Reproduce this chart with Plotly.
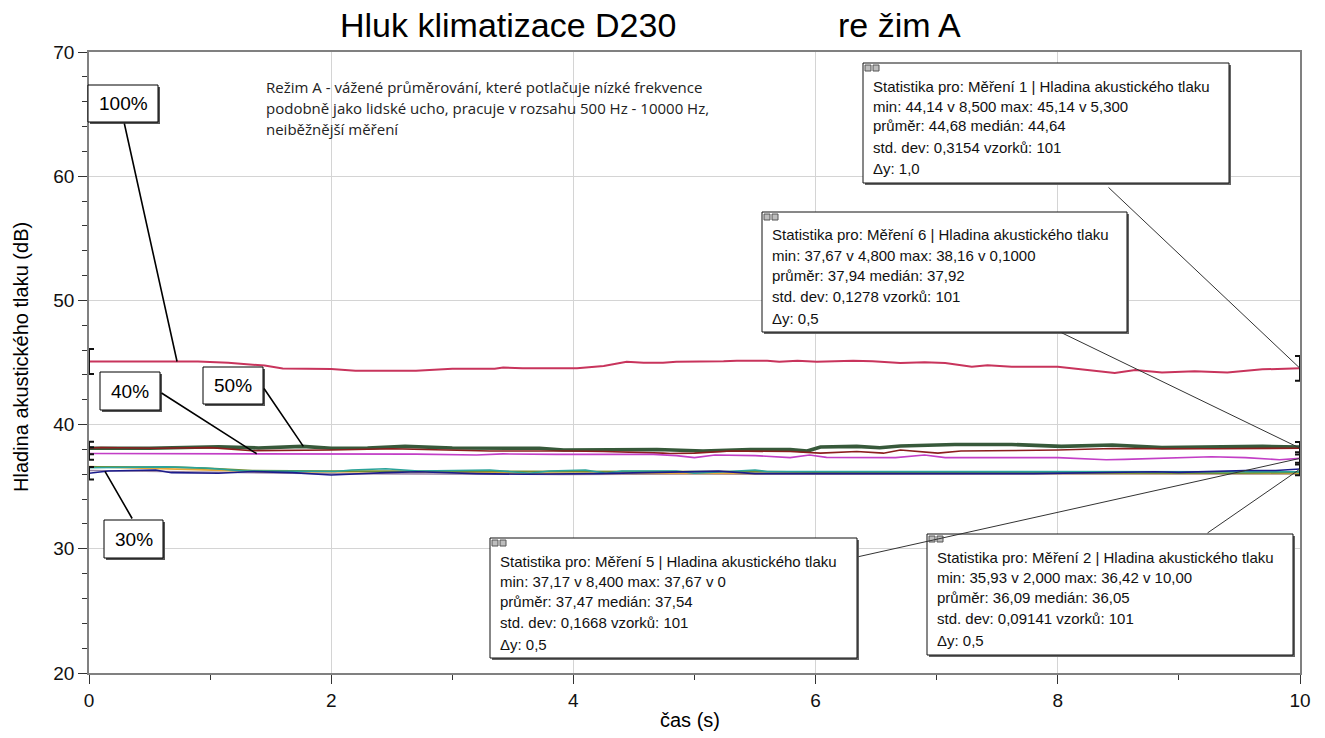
import numpy as np
import plotly.graph_objects as go

# ---------------- data ----------------
t_m1 = [0, 0.5, 0.9, 1.15, 1.45, 1.6, 2.0, 2.2, 2.7, 3.0, 3.35, 3.42, 3.58, 4.03, 4.25, 4.44, 4.58, 4.74,
        4.85, 5.24, 5.35, 5.6, 5.7, 5.85, 6.01, 6.31, 6.47, 6.7, 6.9, 7.07, 7.29, 7.42, 7.62, 8.0, 8.25,
        8.47, 8.64, 8.86, 9.13, 9.4, 9.69, 10.0]
m1 = [45.08, 45.08, 45.08, 44.97, 44.75, 44.52, 44.48, 44.34, 44.34, 44.5, 44.5, 44.6, 44.53, 44.53, 44.72,
      45.06, 44.97, 44.97, 45.06, 45.1, 45.14, 45.14, 45.06, 45.14, 45.06, 45.14, 45.1, 44.95, 45.02, 44.95,
      44.66, 44.77, 44.66, 44.66, 44.4, 44.15, 44.4, 44.2, 44.3, 44.2, 44.45, 44.53]

t_m7 = [0, 0.5, 1.07, 1.4, 1.76, 2.0, 2.3, 2.61, 3.0, 3.35, 3.72, 3.92, 4.27, 4.69, 5.07, 5.46, 5.79, 5.93,
        6.04, 6.34, 6.53, 6.7, 7.15, 7.62, 8.03, 8.45, 8.86, 9.27, 9.69, 10.0]
m7 = [38.09, 38.1, 38.22, 38.12, 38.25, 38.09, 38.12, 38.25, 38.12, 38.09, 38.09, 37.95, 38.0, 38.0, 37.87,
      38.0, 38.0, 37.87, 38.2, 38.25, 38.14, 38.28, 38.4, 38.4, 38.25, 38.36, 38.15, 38.22, 38.25, 38.2]

t_m6 = [0, 0.1, 0.55, 1.0, 1.35, 2.0, 2.5, 3.0, 3.31, 3.95, 4.25, 4.74, 4.8, 5.0, 5.3, 5.79, 6.04, 6.34,
        6.56, 6.7, 7.01, 7.2, 8.0, 8.45, 8.8, 9.3, 10.0]
m6 = [38.12, 38.16, 38.09, 38.15, 37.9, 37.95, 38.05, 37.95, 37.87, 37.87, 37.83, 37.7, 37.67, 37.7, 37.87,
      37.83, 37.7, 37.83, 37.7, 37.95, 37.7, 37.87, 37.95, 38.08, 38.05, 38.05, 38.1]

t_m5 = [0, 0.5, 1.0, 1.5, 2.0, 2.35, 2.7, 3.2, 3.42, 3.86, 4.66, 4.85, 5.0, 5.17, 5.5, 5.79, 5.95, 6.09,
        6.34, 6.66, 6.9, 7.07, 8.0, 8.4, 8.55, 8.86, 9.27, 9.55, 9.83, 10.0]
m5 = [37.67, 37.66, 37.65, 37.65, 37.64, 37.6, 37.62, 37.55, 37.64, 37.6, 37.6, 37.5, 37.34, 37.55, 37.5,
      37.34, 37.55, 37.36, 37.34, 37.34, 37.55, 37.34, 37.34, 37.17, 37.2, 37.28, 37.41, 37.34, 37.17, 37.28]

t_m2 = [0, 0.16, 0.55, 0.68, 1.07, 1.35, 1.68, 2.0, 2.45, 2.72, 3.2, 3.6, 4.2, 4.85, 5.2, 5.5, 6.2, 7.0,
        7.8, 8.8, 9.0, 9.55, 9.8, 10.0]
m2 = [36.08, 36.27, 36.35, 36.13, 36.08, 36.22, 36.13, 35.94, 36.13, 36.2, 36.05, 36.0, 36.05, 36.2, 36.25,
      36.05, 36.05, 36.0, 36.05, 36.2, 36.15, 36.3, 36.3, 36.42]

t_m3 = [0, 0.63, 0.96, 1.28, 2.03, 2.17, 2.45, 2.72, 3.31, 3.64, 3.8, 4.1, 4.27, 4.4, 4.85, 5.0, 5.28, 5.5,
        5.6, 6.7, 8.0, 9.0, 10.0]
m3 = [36.53, 36.6, 36.5, 36.27, 36.22, 36.35, 36.45, 36.27, 36.35, 36.08, 36.27, 36.35, 36.08, 36.27, 36.27,
      36.08, 36.22, 36.35, 36.22, 36.22, 36.18, 36.2, 36.2]

t_m4 = [0, 0.71, 1.04, 1.35, 2.0, 3.35, 4.5, 5.5, 6.66, 7.5, 8.5, 9.5, 10.0]
m4 = [36.6, 36.58, 36.45, 36.3, 36.25, 36.22, 36.2, 36.22, 36.12, 36.1, 36.12, 36.1, 36.15]

t_m8 = [0, 0.5, 1.0, 1.5, 2.5, 3.5, 5.0, 6.5, 8.0, 10.0]
m8 = [36.62, 36.5, 36.35, 36.2, 36.22, 36.1, 36.08, 36.08, 36.08, 36.08]

t_m9 = [0, 1.0, 2.0, 3.6, 3.9, 5.0, 5.6, 6.0, 7.5, 9.0, 10.0]
m9 = [36.3, 36.2, 36.05, 36.0, 35.98, 36.02, 35.98, 36.0, 36.02, 36.0, 36.02]

# stats boxes text
stat_m1 = ["Statistika pro: Měření 1 | Hladina akustického tlaku", "min: 44,14 v 8,500 max: 45,14 v 5,300",
           "průměr: 44,68 medián: 44,64", "std. dev: 0,3154 vzorků: 101", "Δy: 1,0"]
stat_m6 = ["Statistika pro: Měření 6 | Hladina akustického tlaku", "min: 37,67 v 4,800 max: 38,16 v 0,1000",
           "průměr: 37,94 medián: 37,92", "std. dev: 0,1278 vzorků: 101", "Δy: 0,5"]
stat_m5 = ["Statistika pro: Měření 5 | Hladina akustického tlaku", "min: 37,17 v 8,400 max: 37,67 v 0",
           "průměr: 37,47 medián: 37,54", "std. dev: 0,1668 vzorků: 101", "Δy: 0,5"]
stat_m2 = ["Statistika pro: Měření 2 | Hladina akustického tlaku", "min: 35,93 v 2,000 max: 36,42 v 10,00",
           "průměr: 36,09 medián: 36,05", "std. dev: 0,09141 vzorků: 101", "Δy: 0,5"]
delta_y = {"m1": 1.0, "m6": 0.5, "m5": 0.5, "m2": 0.5}

percent_labels = ["100%", "40%", "50%", "30%"]
percent_targets_x = [0.727, 1.385, 1.77, 0.132]

desc_lines = ["Režim A - vážené průměrování, které potlačuje nízké frekvence",
              "podobně jako lidské ucho, pracuje v rozsahu 500 Hz - 10000 Hz,",
              "neiběžnější měření"]

# ---------------- geometry helpers ----------------
W, H = 1325, 738
L, R, T, B = 89, 25, 52, 65
XR = (0, 10)
YR = (20, 70)
PW = W - L - R
PH = H - T - B


def px(x):
    return L + (x - XR[0]) / (XR[1] - XR[0]) * PW


def py(y):
    return T + (YR[1] - y) / (YR[1] - YR[0]) * PH


def pxp(p):  # pixel x -> paper
    return (p - L) / PW


def pyp(p):  # pixel y -> paper
    return (H - B - p) / PH


FONT = "Liberation Sans, Arial, sans-serif"

fig = go.Figure()

series = [
    (t_m9, m9, "#9A86A6", 1.6),
    (t_m8, m8, "#E6A83A", 1.8),
    (t_m4, m4, "#6E8F34", 1.8),
    (t_m3, m3, "#2AA39A", 1.6),
    (t_m2, m2, "#1C1C8C", 1.6),
    (t_m7, m7, "#37593A", 3.6),
    (t_m6, m6, "#8B1E1E", 1.6),
    (t_m5, m5, "#C23EC6", 1.6),
    (t_m1, m1, "#C8345C", 2.0),
]
for t, v, c, w in series:
    fig.add_trace(go.Scatter(x=t, y=v, mode="lines", line=dict(color=c, width=w),
                             showlegend=False, hoverinfo="skip"))

# delta-y brackets at both ends
for t, v, key in [(t_m1, m1, "m1"), (t_m6, m6, "m6"), (t_m5, m5, "m5"), (t_m2, m2, "m2")]:
    fig.add_trace(go.Scatter(x=[t[0], t[-1]], y=[v[0], v[-1]], mode="markers",
                             marker=dict(size=1, color="rgba(0,0,0,0)"),
                             error_y=dict(type="data", array=[delta_y[key]] * 2, width=5,
                                          thickness=2, color="#111"),
                             showlegend=False, hoverinfo="skip", cliponaxis=False))

shapes = []
annotations = []

# title
annotations.append(dict(text="Hluk klimatizace D230", xref="paper", yref="paper", x=pxp(338), y=pyp(25),
                        xanchor="left", yanchor="middle", showarrow=False,
                        font=dict(family=FONT, size=34, color="#000")))
annotations.append(dict(text="re žim A", xref="paper", yref="paper", x=pxp(836), y=pyp(25),
                        xanchor="left", yanchor="middle", showarrow=False,
                        font=dict(family=FONT, size=34, color="#000")))

# axis titles
annotations.append(dict(text="Hladina akustického tlaku (dB)", xref="paper", yref="paper",
                        x=pxp(21), y=pyp(357), textangle=-90, xanchor="center", yanchor="middle",
                        showarrow=False, font=dict(family=FONT, size=20, color="#000")))
annotations.append(dict(text="čas (s)", xref="paper", yref="paper", x=pxp(690), y=pyp(720),
                        xanchor="center", yanchor="middle", showarrow=False,
                        font=dict(family=FONT, size=20, color="#000")))

# description text
for i, line in enumerate(desc_lines):
    annotations.append(dict(text=line, xref="paper", yref="paper", x=pxp(264), y=pyp(87 + 21 * i),
                            xanchor="left", yanchor="middle", showarrow=False,
                            font=dict(family="Open Sans, Lato, sans-serif", size=15, color="#222")))

# percent labels with pointer lines
series_for_label = [(t_m1, m1), (t_m5, m5), (t_m7, m7), (t_m2, m2)]
label_boxes = [(88, 85, 158, 122), (100, 372, 160, 410), (203, 367, 263, 404), (104, 520, 163, 558)]
label_tails = [(124, 122), (160, 392), (263, 387), (133, 520)]
for lab, tx, (ts, vs), box, tail in zip(percent_labels, percent_targets_x, series_for_label,
                                          label_boxes, label_tails):
    ty = float(np.interp(tx, ts, vs))
    annotations.append(dict(x=tx, y=ty, xref="x", yref="y", text="", showarrow=True, arrowhead=0,
                            arrowwidth=1.6, arrowcolor="#000", ax=tail[0] - px(tx), ay=tail[1] - py(ty)))
    x0, y0, x1, y1 = box
    shapes.append(dict(type="rect", xref="paper", yref="paper", x0=pxp(x0 + 2), x1=pxp(x1 + 2),
                       y0=pyp(y0 + 2), y1=pyp(y1 + 2), fillcolor="#555", line=dict(width=0), layer="above"))
    shapes.append(dict(type="rect", xref="paper", yref="paper", x0=pxp(x0), x1=pxp(x1),
                       y0=pyp(y0), y1=pyp(y1), fillcolor="#fff", line=dict(color="#000", width=1),
                       layer="above"))
    annotations.append(dict(text=lab, xref="paper", yref="paper", x=pxp((x0 + x1) / 2),
                            y=pyp((y0 + y1) / 2), xanchor="center", yanchor="middle", showarrow=False,
                            font=dict(family=FONT, size=19, color="#000")))

# statistics boxes
stat_boxes = [
    (stat_m1, (t_m1, m1), (863, 63, 1229, 183), (1107, 186)),
    (stat_m6, (t_m6, m6), (762, 212, 1127, 332), (1060, 332)),
    (stat_m5, (t_m5, m5), (490, 538, 857, 658), (857, 557)),
    (stat_m2, (t_m2, m2), (927, 534, 1293, 655), (1206, 534)),
]
line_offsets = [23, 43, 63, 84.5, 106]
for lines, (ts, vs), (x0, y0, x1, y1), tail in stat_boxes:
    tx, ty = ts[-1], vs[-1]
    annotations.append(dict(x=tx, y=ty, xref="x", yref="y", text="", showarrow=True, arrowhead=0,
                            arrowwidth=1, arrowcolor="#333", ax=tail[0] - px(tx), ay=tail[1] - py(ty)))
    shapes.append(dict(type="rect", xref="paper", yref="paper", x0=pxp(x0 + 2), x1=pxp(x1 + 2),
                       y0=pyp(y0 + 2), y1=pyp(y1 + 2), fillcolor="#666", line=dict(width=0), layer="above"))
    shapes.append(dict(type="rect", xref="paper", yref="paper", x0=pxp(x0), x1=pxp(x1),
                       y0=pyp(y0), y1=pyp(y1), fillcolor="#fff", line=dict(color="#111", width=1),
                       layer="above"))
    # small window icons
    for k in range(2):
        shapes.append(dict(type="rect", xref="paper", yref="paper", x0=pxp(x0 + 2 + 8 * k),
                           x1=pxp(x0 + 8 + 8 * k), y0=pyp(y0 + 2), y1=pyp(y0 + 8),
                           fillcolor="#BDBDBD", line=dict(color="#555", width=1), layer="above"))
    for i, ln in enumerate(lines):
        annotations.append(dict(text=ln, xref="paper", yref="paper", x=pxp(x0 + 8),
                                y=pyp(y0 + line_offsets[i]), xanchor="left", yanchor="middle",
                                showarrow=False, font=dict(family=FONT, size=15, color="#111")))

axis_common = dict(showgrid=True, gridcolor="#D4D4D4", gridwidth=1, linecolor="#808080", linewidth=1.5,
                   mirror=True, ticks="outside", ticklen=9, tickcolor="#333", tickwidth=1.2,
                   zeroline=False, tickfont=dict(family=FONT, size=19, color="#111"))

fig.update_layout(
    width=W, height=H,
    margin=dict(l=L, r=R, t=T, b=B, pad=0),
    paper_bgcolor="#fff", plot_bgcolor="#fff",
    xaxis=dict(range=list(XR), tick0=0, dtick=2,
               minor=dict(dtick=1, ticks="outside", ticklen=5, tickcolor="#333", showgrid=False),
               **axis_common),
    yaxis=dict(range=list(YR), tick0=20, dtick=10,
               minor=dict(dtick=2, ticks="outside", ticklen=5, tickcolor="#333", showgrid=False),
               **axis_common),
    shapes=shapes,
    annotations=annotations,
    showlegend=False,
)

fig.write_html("out.html", config={"displayModeBar": False},
               post_script="document.body.style.margin='0';document.body.style.overflow='hidden';")
